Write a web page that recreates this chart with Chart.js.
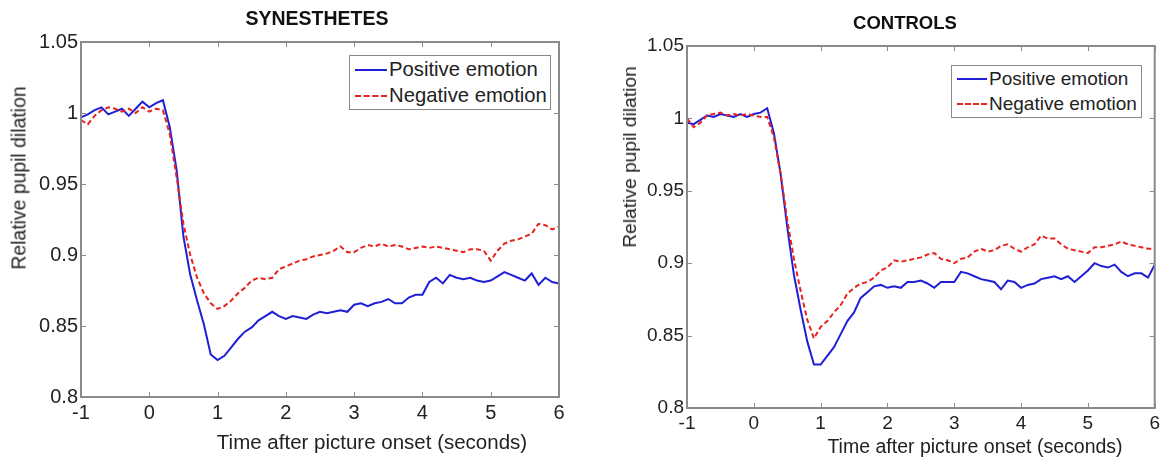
<!DOCTYPE html>
<html>
<head>
<meta charset="utf-8">
<script src="https://cdn.jsdelivr.net/npm/chart.js@4/dist/chart.umd.min.js"></script>
<style>
    body { margin: 0; background: #fff; }
    #page { position: relative; width: 1164px; height: 459px; overflow: hidden; font-family: "Liberation Sans", Arial, sans-serif; color: #222; }
    canvas { position: absolute; top: 0; }
    .lbl { position: absolute; transform: translate(-50%, -50%); white-space: nowrap; }
    .title { font-weight: bold; color: #111; }
    .ylab { transform: translate(-50%, -50%) rotate(-90deg); }
    .legend { position: absolute; background: #fff; border: 1.5px solid #8a8a8a; box-sizing: border-box; }
    .legend p { margin: 0; position: absolute; left: 0; display: flex; align-items: center; white-space: nowrap; }
    .legend i { display: inline-block; width: 32px; margin: 0 2px 0 5px; }
</style>
</head>
<body>
<div id="page">
    <canvas id="synChart" width="580" height="459" style="left:0"></canvas>
    <canvas id="ctlChart" width="564" height="459" style="left:600px"></canvas>

    <div class="lbl title" style="left:317px; top:18px; font-size:19.5px">SYNESTHETES</div>
    <div class="lbl title" style="left:905px; top:23px; font-size:18.5px">CONTROLS</div>
    <div class="lbl" style="left:372px; top:442px; font-size:20.5px">Time after picture onset (seconds)</div>
    <div class="lbl" style="left:975px; top:446px; font-size:19.5px">Time after picture onset (seconds)</div>
    <div class="lbl ylab" style="left:19px; top:178px; font-size:19.4px">Relative pupil dilation</div>
    <div class="lbl ylab" style="left:630px; top:157px; font-size:19.2px">Relative pupil dilation</div>

    <div class="legend" style="left:349px; top:55px; width:202px; height:55px; font-size:20.3px">
        <p style="top:2px"><i style="border-top:2px solid #1f1fd8"></i>Positive emotion</p>
        <p style="top:28px"><i style="border-top:2px dashed #e8231f"></i>Negative emotion</p>
    </div>
    <div class="legend" style="left:951px; top:65px; width:191px; height:53px; font-size:19px">
        <p style="top:2px"><i style="border-top:2px solid #1f1fd8; width:30px"></i>Positive emotion</p>
        <p style="top:27px"><i style="border-top:2px dashed #e8231f; width:30px"></i>Negative emotion</p>
    </div>
</div>
<script>
// time after picture onset, seconds
let times = [-1.0, -0.9, -0.8, -0.7, -0.6, -0.5, -0.4, -0.3, -0.2, -0.1,
    0.0, 0.1, 0.2, 0.3, 0.4, 0.5, 0.6, 0.7, 0.8, 0.9,
    1.0, 1.1, 1.2, 1.3, 1.4, 1.5, 1.6, 1.7, 1.8, 1.9,
    2.0, 2.1, 2.2, 2.3, 2.4, 2.5, 2.6, 2.7, 2.8, 2.9,
    3.0, 3.1, 3.2, 3.3, 3.4, 3.5, 3.6, 3.7, 3.8, 3.9,
    4.0, 4.1, 4.2, 4.3, 4.4, 4.5, 4.6, 4.7, 4.8, 4.9,
    5.0, 5.1, 5.2, 5.3, 5.4, 5.5, 5.6, 5.7, 5.8, 5.9, 6.0];

let synPositive = [0.997, 0.999, 1.002, 1.004, 0.999, 1.001, 1.003, 0.998, 1.003, 1.008,
    1.004, 1.007, 1.009, 0.990, 0.960, 0.913, 0.886, 0.868, 0.851, 0.830,
    0.826, 0.829, 0.835, 0.841, 0.846, 0.849, 0.854, 0.857, 0.860, 0.857,
    0.855, 0.857, 0.856, 0.855, 0.858, 0.860, 0.859, 0.860, 0.861, 0.860,
    0.865, 0.866, 0.864, 0.866, 0.867, 0.869, 0.866, 0.866, 0.870, 0.872,
    0.872, 0.881, 0.884, 0.880, 0.886, 0.884, 0.883, 0.884, 0.882, 0.881,
    0.882, 0.885, 0.888, 0.886, 0.884, 0.882, 0.887, 0.879, 0.884, 0.881, 0.880];

let synNegative = [0.995, 0.992, 0.998, 1.002, 1.004, 1.003, 1.001, 1.003, 1.000, 1.004,
    1.001, 1.003, 1.002, 0.985, 0.955, 0.922, 0.900, 0.884, 0.873, 0.866,
    0.862, 0.864, 0.868, 0.873, 0.877, 0.882, 0.884, 0.883, 0.884, 0.890,
    0.892, 0.894, 0.896, 0.897, 0.899, 0.900, 0.901, 0.903, 0.906, 0.902,
    0.902, 0.905, 0.907, 0.906, 0.908, 0.906, 0.907, 0.906, 0.904, 0.905,
    0.906, 0.905, 0.906, 0.905, 0.904, 0.903, 0.902, 0.904, 0.904, 0.903,
    0.896, 0.903, 0.908, 0.910, 0.911, 0.913, 0.915, 0.922, 0.921, 0.918, 0.920];

let ctlPositive = [0.997, 0.996, 0.999, 1.002, 1.001, 1.003, 1.002, 1.001, 1.003, 1.001,
    1.003, 1.004, 1.007, 0.990, 0.962, 0.925, 0.892, 0.868, 0.846, 0.830,
    0.830, 0.836, 0.842, 0.851, 0.860, 0.866, 0.876, 0.880, 0.884, 0.885,
    0.883, 0.884, 0.883, 0.887, 0.887, 0.888, 0.886, 0.883, 0.887, 0.887,
    0.887, 0.894, 0.893, 0.891, 0.889, 0.888, 0.887, 0.882, 0.888, 0.887,
    0.883, 0.885, 0.886, 0.889, 0.890, 0.891, 0.889, 0.891, 0.887, 0.891,
    0.895, 0.900, 0.898, 0.897, 0.899, 0.894, 0.891, 0.893, 0.893, 0.890, 0.899];

let ctlNegative = [1.000, 0.994, 0.997, 1.002, 1.003, 1.004, 1.002, 1.003, 1.002, 1.003,
    1.002, 1.001, 1.001, 0.987, 0.962, 0.930, 0.903, 0.881, 0.861, 0.848,
    0.856, 0.860, 0.866, 0.871, 0.879, 0.883, 0.886, 0.887, 0.890, 0.895,
    0.897, 0.902, 0.901, 0.902, 0.903, 0.904, 0.906, 0.907, 0.903, 0.902,
    0.900, 0.903, 0.904, 0.908, 0.910, 0.908, 0.909, 0.912, 0.913, 0.910,
    0.908, 0.911, 0.913, 0.919, 0.917, 0.917, 0.913, 0.910, 0.909, 0.908,
    0.907, 0.911, 0.911, 0.912, 0.913, 0.915, 0.913, 0.912, 0.911, 0.910, 0.910];

let xTickLabels = ["-1", "0", "1", "2", "3", "4", "5", "6"];
let yTickLabels = ["0.8", "0.85", "0.9", "0.95", "1", "1.05"];

// matlab style box with inward ticks
let framePlugin = {
    id: "frame",
    afterDatasetsDraw(chart) {
        let ctx = chart.ctx;
        let a = chart.chartArea;
        let x = chart.scales.x;
        let y = chart.scales.y;
        ctx.save();
        ctx.strokeStyle = "#8a8a8a";
        ctx.lineWidth = 1;
        ctx.beginPath();
        for (let t of x.ticks) {
            let px = Math.round(x.getPixelForValue(t.value)) + 0.5;
            ctx.moveTo(px, a.bottom); ctx.lineTo(px, a.bottom - 5);
            ctx.moveTo(px, a.top); ctx.lineTo(px, a.top + 5);
        }
        for (let t of y.ticks) {
            let py = Math.round(y.getPixelForValue(t.value)) + 0.5;
            ctx.moveTo(a.left, py); ctx.lineTo(a.left + 5, py);
            ctx.moveTo(a.right, py); ctx.lineTo(a.right - 5, py);
        }
        ctx.stroke();
        ctx.lineWidth = 2;
        ctx.strokeRect(a.left, a.top, a.right - a.left, a.bottom - a.top);
        ctx.restore();
    }
};

function makeChart(id, positive, negative, box) {
    let toPoints = (vals) => vals.map((v, i) => ({ x: times[i], y: v }));
    return new Chart(document.getElementById(id), {
        type: "line",
        data: {
            datasets: [{
                label: "Positive emotion",
                data: toPoints(positive),
                borderColor: "#1f1fd8",
                borderWidth: 2,
                pointRadius: 0,
                tension: 0,
                order: 1
            }, {
                label: "Negative emotion",
                data: toPoints(negative),
                borderColor: "#e8231f",
                borderWidth: 2,
                borderDash: [5, 3],
                pointRadius: 0,
                tension: 0,
                order: 0
            }]
        },
        options: {
            responsive: false,
            animation: false,
            devicePixelRatio: 1,
            layout: { padding: { left: 0, right: box.right, top: box.top, bottom: 0 } },
            plugins: { legend: { display: false }, tooltip: { enabled: false } },
            scales: {
                x: {
                    type: "linear",
                    min: -1,
                    max: 6,
                    grid: { display: false, drawTicks: false },
                    border: { display: false },
                    afterFit: (scale) => { scale.height = box.xHeight; },
                    ticks: {
                        stepSize: 1,
                        padding: 4,
                        color: "#222",
                        font: { family: "Liberation Sans", size: box.font },
                        maxRotation: 0,
                        callback: (value, index) => xTickLabels[index]
                    }
                },
                y: {
                    min: 0.8,
                    max: 1.05,
                    grid: { display: false, drawTicks: false },
                    border: { display: false },
                    afterFit: (scale) => { scale.width = box.left; },
                    ticks: {
                        stepSize: 0.05,
                        padding: 3,
                        color: "#222",
                        font: { family: "Liberation Sans", size: box.font },
                        callback: (value, index) => yTickLabels[index]
                    }
                }
            }
        },
        plugins: [framePlugin]
    });
}

makeChart("synChart", synPositive, synNegative, { left: 81, right: 21, top: 42, xHeight: 62, font: 20 });
makeChart("ctlChart", ctlPositive, ctlNegative, { left: 87, right: 6, top: 46, xHeight: 51, font: 19 });
</script>
</body>
</html>
